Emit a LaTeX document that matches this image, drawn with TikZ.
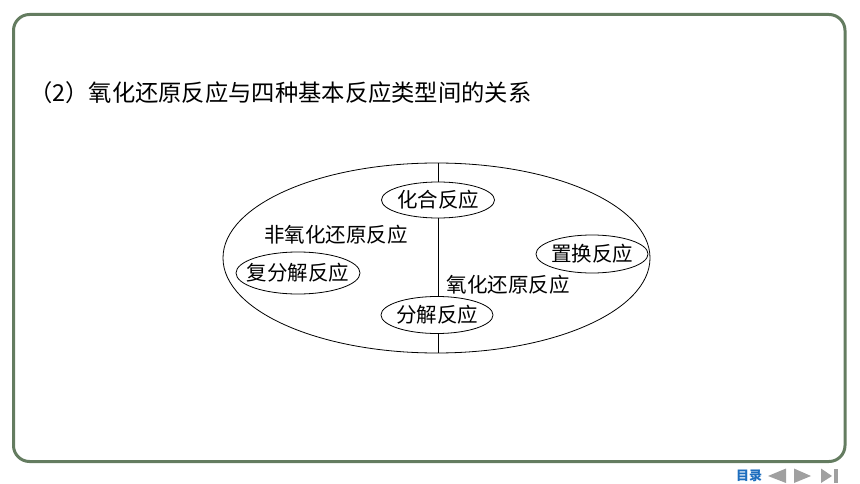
\documentclass[tikz,border=0pt]{standalone}
\usepackage{fontspec}
\setmainfont{Liberation Serif}
\newfontfamily\cjk{Noto Sans CJK SC}
\usetikzlibrary{shapes.geometric}
\definecolor{framegreen}{RGB}{100,124,96}
\definecolor{navblue}{RGB}{30,110,190}
\definecolor{navgray}{RGB}{160,160,160}
\newcommand{\zw}[1]{\makebox[0pt][c]{#1}}
\tikzset{
  oval/.style={draw, ellipse, line width=0.8pt, inner sep=0pt, fill=white, font=\cjk\fontsize{20.5}{20.5}\selectfont},
  lbl/.style={font=\cjk\fontsize{20.5}{20.5}\selectfont, inner sep=0pt},
  thin/.style={line width=0.8pt}
}
\begin{document}
\begin{tikzpicture}[x=1pt,y=-1pt]
\useasboundingbox (0,0) rectangle (860,484);
% frame
\draw[framegreen, line width=3pt, rounded corners=16pt] (13.5,14.5) rectangle (845,461.5);
% title
\node[anchor=west, inner sep=0pt, font=\cjk\fontsize{23.3}{24}\selectfont] (title) at (29,93) {（2）氧化还原反应与四种基本反应类型间的关系};
% big ellipse
\node[draw, ellipse, thin, minimum width=427pt, minimum height=190pt, inner sep=0pt] (big) at (436.5,258) {};
% vertical divider
\coordinate (vtop) at (438,163);
\coordinate (vbot) at (438,353);
% small ellipses
\node[oval, minimum width=113pt, minimum height=36pt] (hh) at (438,200) {\zw{化合反应}};
\node[oval, minimum width=112pt, minimum height=37pt] (fj) at (437,315) {\zw{分解反应}};
\draw[thin] (vtop) -- (vtop |- hh.north);
\draw[thin] (vtop |- hh.south) -- (vtop |- fj.north);
\draw[thin] (vtop |- fj.south) -- (vbot);
\node[oval, minimum width=124pt, minimum height=42pt] (ffj) at (298,273) {\zw{复分解反应}};
\node[oval, minimum width=112pt, minimum height=38pt] (zh) at (592,254) {\zw{置换反应}};
% region labels
\node[lbl] (fyh) at (336,235) {非氧化还原反应};
\node[lbl] (yh) at (508,285) {氧化还原反应};
% footer navigation
\node[inner sep=0pt, text=navblue, font=\cjk\bfseries\fontsize{13}{13}\selectfont] (ml) at (749,475.5) {目录};
\fill[navgray] (768,476) -- (786,468.5) -- (786,483) -- cycle;
\fill[navgray] (811,476) -- (794,468.5) -- (794,483) -- cycle;
\fill[navgray] (832,476) -- (821,468.5) -- (821,483) -- cycle;
\fill[navgray] (833.5,468.5) rectangle (837.5,483);
\end{tikzpicture}
\end{document}
